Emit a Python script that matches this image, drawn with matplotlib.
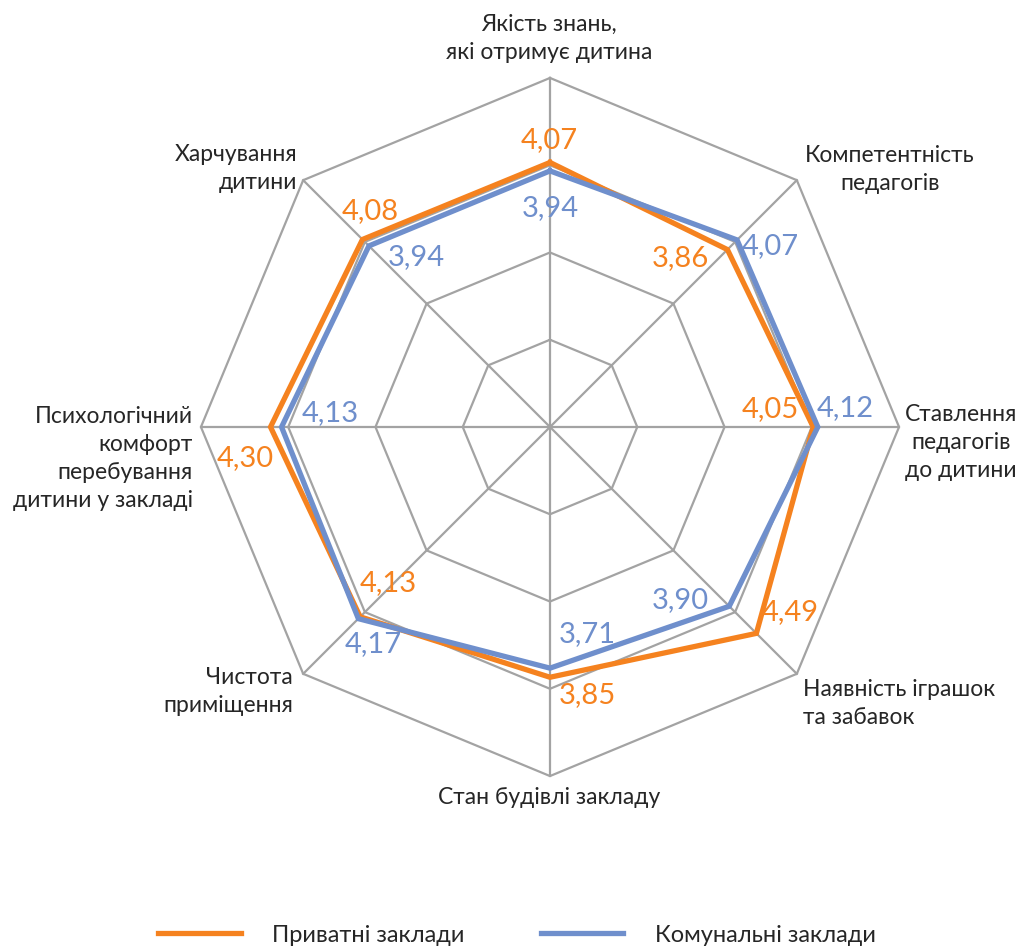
import numpy as np
import matplotlib
matplotlib.use("Agg")
import matplotlib.pyplot as plt

plt.rcParams['font.family'] = ['Lato', 'DejaVu Sans']

# data: axes clockwise from the top
categories = [
    "Якість знань,\nякі отримує дитина",
    "Компетентність\nпедагогів",
    "Ставлення\nпедагогів\nдо дитини",
    "Наявність іграшок\nта забавок",
    "Стан будівлі закладу",
    "Чистота\nприміщення",
    "Психологічний\nкомфорт\nперебування\nдитини у закладі",
    "Харчування\nдитини",
]
private = [4.07, 3.86, 4.05, 4.49, 3.85, 4.13, 4.30, 4.08]
communal = [3.94, 4.07, 4.12, 3.90, 3.71, 4.17, 4.13, 3.94]
series_names = ["Приватні заклади", "Комунальні заклади"]

ORANGE = "#F5821F"
BLUE = "#6F8FCC"
GRID = "#A3A3A3"
TEXT = "#262626"

R_MAX = 5.37
N_RINGS = 4
PX = 65.0            # pixels per unit
CX, CY = 550, 427    # centre in pixels (from top)
W, H = 1021, 949

n = len(categories)
ang = np.deg2rad(90 - 360 / n * np.arange(n))


def xy(vals):
    vals = np.asarray(vals, dtype=float)
    return vals * np.cos(ang), vals * np.sin(ang)


fig = plt.figure(figsize=(W / 100, H / 100), dpi=100)
ax = fig.add_axes([0, 0, 1, 1])
ax.set_xlim(-CX / PX, (W - CX) / PX)
ax.set_ylim(-(H - CY) / PX, CY / PX)
ax.axis("off")

# octagon grid
for k in range(1, N_RINGS + 1):
    gx, gy = xy([R_MAX * k / N_RINGS] * n)
    ax.plot(np.append(gx, gx[0]), np.append(gy, gy[0]), color=GRID, lw=1.6, zorder=1)
ox, oy = xy([R_MAX] * n)
for i in range(n):
    ax.plot([0, ox[i]], [0, oy[i]], color=GRID, lw=1.6, zorder=1)

# series
lines = []
for vals, col in [(private, ORANGE), (communal, BLUE)]:
    px_, py_ = xy(vals)
    ln, = ax.plot(np.append(px_, px_[0]), np.append(py_, py_[0]), color=col, lw=3.8,
                  solid_joinstyle="miter", zorder=3)
    lines.append(ln)

# value labels: offsets in pixels (dx, dy up)
off_private = [(-1, 22), (-47, -8), (-43, 18), (34, 21), (37, -18), (28, 34), (-25, -31), (8, 28)]
off_communal = [(0, -37), (33, -6), (27, 19), (-49, 6), (37, 34), (15, -25), (49, 14), (47, -11)]
for vals, offs, col in [(private, off_private, ORANGE), (communal, off_communal, BLUE)]:
    px_, py_ = xy(vals)
    for i, v in enumerate(vals):
        ax.annotate(f"{v:.2f}".replace(".", ","), (px_[i], py_[i]), xytext=offs[i],
                    textcoords="offset pixels", ha="center", va="center",
                    color=col, fontsize=21, zorder=4)

# category labels
cat_pos = [((-1, 39.5), "center"), ((93, 10.5), "center"), ((62, -15.5), "center"),
           ((6, -30), "left"), ((-1, -21), "center"), ((-10, -17.5), "right"),
           ((-8, -31.5), "right"), ((-6, 11.5), "right")]
for i, lab in enumerate(categories):
    off, ha = cat_pos[i]
    ax.annotate(lab, (ox[i], oy[i]), xytext=off, textcoords="offset pixels",
                ha=ha, va="center", color=TEXT, fontsize=16.5, linespacing=1.4,
                multialignment=ha)

fig.legend(lines, series_names, loc="center", bbox_to_anchor=(517 / W, 1 - 935 / H),
           ncol=2, frameon=False, fontsize=17, handlelength=3.5, handletextpad=1.35,
           columnspacing=3.2, labelcolor=TEXT)

fig.savefig("out.png", dpi=100)
